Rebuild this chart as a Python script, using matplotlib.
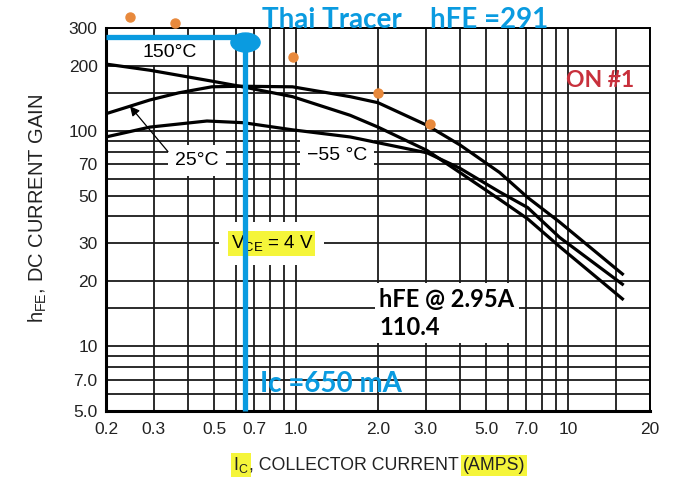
import matplotlib
matplotlib.use("Agg")
import matplotlib.pyplot as plt
import numpy as np
from matplotlib import font_manager
from matplotlib.path import Path

# fonts
names = {f.name for f in font_manager.fontManager.ttflist}
base_font = "Liberation Sans Narrow" if "Liberation Sans Narrow" in names else "Liberation Sans"
plt.rcParams["font.family"] = [base_font, "DejaVu Sans"]
plt.rcParams["mathtext.fontset"] = "custom"
plt.rcParams["mathtext.rm"] = base_font

# data
ic_25 = [0.2, 0.245, 0.29, 0.37, 0.49, 0.62, 0.97, 1.58, 2.0, 3.03, 4.0, 5.6, 7.1, 9.3, 16]
hfe_25 = [120, 130, 139, 150, 160, 161, 160, 144, 135, 106, 86, 64, 49, 37.7, 21.4]

ic_150 = [0.2, 0.29, 0.49, 0.62, 0.97, 1.58, 2.0, 3.03, 4.0, 5.6, 7.1, 9.3, 16]
hfe_150 = [204, 191, 170, 161, 144, 118, 104, 81, 64, 48, 39, 29, 16.4]

ic_m55 = [0.2, 0.29, 0.47, 0.64, 0.97, 1.58, 2.0, 3.03, 4.0, 5.6, 7.1, 9.3, 16]
hfe_m55 = [93.6, 104, 111, 109, 101, 93.6, 88, 79, 67, 52, 44, 32, 19.2]

# measured points (orange dots)
ic_meas = [0.245, 0.36, 0.97, 2.0, 3.1]
hfe_meas = [337, 316, 220, 150, 108]

# tracer reading
ic_marker = 0.65
hfe_line = 272
hfe_blob = 258

x_ticks = [0.2, 0.3, 0.5, 0.7, 1.0, 2.0, 3.0, 5.0, 7.0, 10, 20]
x_labels = ["0.2", "0.3", "0.5", "0.7", "1.0", "2.0", "3.0", "5.0", "7.0", "10", "20"]
x_minor = [0.4, 0.6, 0.8, 0.9, 4, 6, 8, 9, 15]
y_ticks = [5, 7, 10, 20, 30, 50, 70, 100, 200, 300]
y_labels = ["5.0", "7.0", "10", "20", "30", "50", "70", "100", "200", "300"]
y_minor = [6, 8, 9, 15, 40, 60, 80, 90, 150]

blue = "#0A9BE0"
orange = "#E8893C"
red = "#C8303C"

fig = plt.figure(figsize=(7, 4.88), dpi=100)
ax = fig.add_axes([106 / 700, 77 / 488, 544 / 700, 383 / 488])
ax.set_xscale("log")
ax.set_yscale("log")
ax.set_xlim(0.2, 20)
ax.set_ylim(5, 300)

ax.set_xticks(x_ticks)
ax.set_xticklabels(x_labels)
ax.set_xticks(x_minor, minor=True)
ax.set_yticks(y_ticks)
ax.set_yticklabels(y_labels)
ax.set_yticks(y_minor, minor=True)
ax.xaxis.set_minor_formatter(matplotlib.ticker.NullFormatter())
ax.yaxis.set_minor_formatter(matplotlib.ticker.NullFormatter())
ax.tick_params(which="both", length=0, labelsize=12.5, colors="#222222")
ax.tick_params(axis="x", pad=8)
ax.tick_params(axis="y", pad=6)
ax.grid(True, which="both", color="#1a1a1a", linewidth=1.3)
ax.set_axisbelow(True)
for side in ["left", "bottom"]:
    ax.spines[side].set_linewidth(2.2)
for side in ["top", "right"]:
    ax.spines[side].set_linewidth(1.4)

# curves
for ic, hfe in [(ic_25, hfe_25), (ic_150, hfe_150), (ic_m55, hfe_m55)]:
    ax.plot(ic, hfe, color="black", linewidth=2.3, solid_capstyle="butt", zorder=3)

# temperature labels with white gaps in the grid
wbox = dict(facecolor="white", edgecolor="none", pad=3)
ax.text(0.344, 230, "150°C", fontsize=14, ha="center", va="center", bbox=wbox, zorder=2)
ax.text(0.432, 73, "25°C", fontsize=14, ha="center", va="center",
        bbox=dict(facecolor="white", edgecolor="none", pad=5), zorder=2)
ax.text(1.41, 77, "\u221255 °C", fontsize=14, ha="center", va="center",
        bbox=dict(facecolor="white", edgecolor="none", pad=5), zorder=2)
ax.annotate("", xy=(0.245, 130), xytext=(0.338, 80),
            arrowprops=dict(arrowstyle="-|>", color="black", lw=0.9,
                            mutation_scale=14, shrinkA=0, shrinkB=0), zorder=4)

# VCE label: white gap and yellow highlight
ax.text(0.815, 30, r"V$_\mathregular{CE}$ = 4 V", fontsize=13.5, ha="center",
        va="center", color="none",
        bbox=dict(facecolor="white", edgecolor="none", pad=8), zorder=2)
ax.text(0.815, 30, r"V$_\mathregular{CE}$ = 4 V", fontsize=13.5, ha="center",
        va="center", bbox=dict(facecolor="#F5F53A", edgecolor="none", pad=1.5), zorder=4)

# orange measured dots
ax.plot(ic_meas, hfe_meas, "o", color=orange, markersize=6.5, linestyle="none",
        clip_on=False, zorder=5)

# tracer lines
ax.plot([0.2, ic_marker], [hfe_line, hfe_line], color=blue, linewidth=3.8,
        solid_capstyle="butt", zorder=6, clip_on=False)
ax.plot([ic_marker, ic_marker], [hfe_blob, 5], color=blue, linewidth=3.8,
        solid_capstyle="butt", zorder=6, clip_on=False)
circ = Path.unit_circle()
blob = Path(circ.vertices * np.array([1.0, 0.65]), circ.codes)
ax.plot([ic_marker], [hfe_blob], marker=blob, markersize=21, color=blue,
        linestyle="none", zorder=7, clip_on=False)

# annotations
bold = dict(family=["Lato", "DejaVu Sans"], fontweight="bold")
ax.text(0.749, 328, "Thai Tracer", color=blue, fontsize=20, ha="left", va="center",
        clip_on=False, zorder=8, **bold)
ax.text(3.1, 328, "hFE =291", color=blue, fontsize=20, ha="left", va="center",
        clip_on=False, zorder=8, **bold)
ax.text(0.737, 6.7, "Ic =650 mA", color=blue, fontsize=20, ha="left", va="center",
        zorder=8, **bold)
ax.text(13.1, 172, "ON #1", color=red, fontsize=16.5, ha="center", va="center",
        zorder=8, **bold)
ax.text(2.02, 14.2, "hFE @ 2.95A\n110.4", color="black", fontsize=17, ha="left",
        va="center", linespacing=1.3, zorder=8,
        bbox=dict(facecolor="white", edgecolor="none", pad=3), **bold)

# y label
fig.text(38 / 700, 1 - 208 / 488, r"h$_\mathregular{FE}$, DC CURRENT GAIN", rotation=90,
         ha="center", va="center", fontsize=14.5, color="#222222")

# x label in pieces, two of them highlighted
renderer = fig.canvas.get_renderer()
yb = 1 - 470 / 488
x0 = 233 / 700
hl = dict(facecolor="#F5F53A", edgecolor="none", pad=1.5)
pieces = [(r"I$_\mathregular{C}$", hl), (", COLLECTOR CURRENT ", None), ("(AMPS)", hl)]
for txt, box in pieces:
    t = fig.text(x0, yb, txt, fontsize=12.8, va="baseline", ha="left", color="#222222", bbox=box)
    bb = t.get_window_extent(renderer)
    x0 = bb.x1 / fig.bbox.width

fig.savefig("out.png", dpi=100)
